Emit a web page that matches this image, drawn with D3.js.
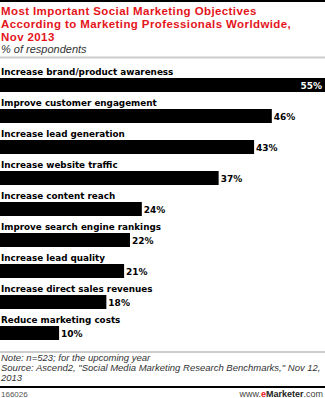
<!DOCTYPE html>
<html><head><meta charset="utf-8">
<script src="https://cdn.jsdelivr.net/npm/d3@7"></script>
<style>
html,body{margin:0;padding:0;background:#fff;}
svg{display:block;}
</style></head>
<body>
<script>
const categories = ["Increase brand/product awareness","Improve customer engagement","Increase lead generation","Increase website traffic","Increase content reach","Improve search engine rankings","Increase lead quality","Increase direct sales revenues","Reduce marketing costs"];
const values = [55,46,43,37,24,22,21,18,10];
const titleLines = ["Most Important Social Marketing Objectives","According to Marketing Professionals Worldwide,","Nov 2013"];
const subtitle = "% of respondents";
const noteLines = ["Note: n=523; for the upcoming year","Source: Ascend2, \"Social Media Marketing Research Benchmarks,\" Nov 12,","2013"];
const chartId = "166026";

const W=325,H=398;
const svg=d3.select("body").append("svg").attr("width",W).attr("height",H);
svg.append("rect").attr("x",0).attr("y",0).attr("width",W).attr("height",2).attr("fill","#000");

const red="#e4141b";
svg.selectAll("text.title").data(titleLines).join("text").attr("class","title")
  .attr("x",1).attr("y",(d,i)=>14.5+i*13)
  .attr("font-family","Liberation Sans, Arial, sans-serif").attr("font-weight","bold")
  .attr("font-size",11.5).attr("letter-spacing",0.4).attr("fill",red).text(d=>d);
svg.append("text").attr("x",1).attr("y",53).attr("font-family","Liberation Sans, Arial, sans-serif")
  .attr("font-style","italic").attr("font-size",11).attr("fill","#333").text(subtitle);
svg.append("rect").attr("x",0).attr("y",56.5).attr("width",W).attr("height",2).attr("fill","#ccc");

const x=d3.scaleLinear().domain([0,55]).range([0,325]);
const y=d3.scaleBand().domain(categories).range([78,340]).paddingInner(17/31).paddingOuter(0);

const g=svg.append("g");
g.selectAll("text.cat").data(categories).join("text").attr("class","cat")
  .attr("x",1).attr("y",d=>y(d)-3)
  .attr("font-family","DejaVu Sans, sans-serif").attr("font-weight","bold")
  .attr("font-size",8.8).attr("fill","#000").text(d=>d);
g.selectAll("rect.bar").data(values).join("rect").attr("class","bar")
  .attr("x",x(0)).attr("y",(d,i)=>y(categories[i])).attr("width",d=>x(d)-x(0))
  .attr("height",y.bandwidth()).attr("fill","#000");
g.selectAll("text.val").data(values).join("text").attr("class","val")
  .attr("x",(d,i)=>i===0?x(d)-3:x(d)+2)
  .attr("y",(d,i)=>y(categories[i])+y.bandwidth()/2+3.5)
  .attr("text-anchor",(d,i)=>i===0?"end":"start")
  .attr("font-family","DejaVu Sans, sans-serif").attr("font-weight","bold")
  .attr("font-size",9).attr("fill",(d,i)=>i===0?"#fff":"#000").text(d=>d+"%");

svg.append("rect").attr("x",0).attr("y",351.5).attr("width",W).attr("height",1).attr("fill","#999");
svg.selectAll("text.note").data(noteLines).join("text").attr("class","note")
  .attr("x",1).attr("y",(d,i)=>361+i*10)
  .attr("font-family","Liberation Sans, Arial, sans-serif").attr("font-style","italic")
  .attr("font-size",9.5).attr("fill","#333").text(d=>d);
svg.append("rect").attr("x",0).attr("y",386).attr("width",W).attr("height",2).attr("fill","#000");
svg.append("text").attr("x",1).attr("y",396.5).attr("font-family","Liberation Sans, Arial, sans-serif")
  .attr("font-size",8).attr("fill","#555").text(chartId);
const logo=svg.append("text").attr("x",323).attr("y",396.5).attr("text-anchor","end")
  .attr("font-family","Liberation Sans, Arial, sans-serif").attr("font-size",9).attr("fill","#444");
logo.append("tspan").text("www.");
logo.append("tspan").attr("fill",red).attr("font-weight","bold").text("e");
logo.append("tspan").attr("fill","#222").attr("font-weight","bold").text("Marketer");
logo.append("tspan").text(".com");
</script>
</body></html>
